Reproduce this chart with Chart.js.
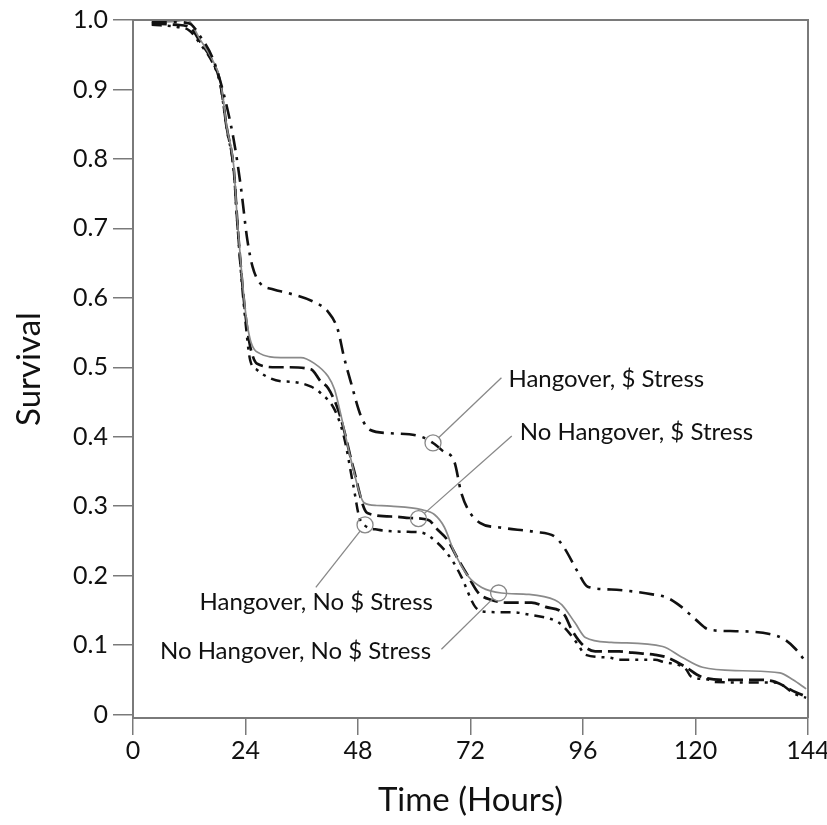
<!DOCTYPE html>
<html>
<head>
<meta charset="utf-8">
<script src="https://cdn.jsdelivr.net/npm/chart.js@4/dist/chart.umd.min.js"></script>
<style>
  html, body { margin: 0; padding: 0; background: #fff; }
  #wrap { width: 827px; height: 825px; }
</style>
</head>
<body>
<div id="wrap"><canvas id="chart" width="827" height="825"></canvas></div>
<script>
// tick labels
const xTicks = [0, 24, 48, 72, 96, 120, 144];
const yTicks = [0, 0.1, 0.2, 0.3, 0.4, 0.5, 0.6, 0.7, 0.8, 0.9, 1.0];

// Hangover, $ Stress
const hangStressHours = [4, 9, 12, 14.5, 17, 19.3, 21.5, 23, 24.4, 25.5, 27, 30, 33, 38.6, 41.6, 43.7, 45, 46.5, 48.6, 50.5, 55, 61.5, 64, 66, 68.6, 70, 71.5, 74, 78.6, 85.7, 90, 92, 95, 97, 102, 110.8, 114, 117, 120, 123, 128.6, 135.8, 139, 141.4, 143.5];
const hangStressSurv = [0.997, 0.997, 0.995, 0.975, 0.945, 0.895, 0.827, 0.76, 0.683, 0.645, 0.622, 0.612, 0.607, 0.594, 0.58, 0.554, 0.515, 0.478, 0.43, 0.41, 0.405, 0.40, 0.391, 0.38, 0.363, 0.32, 0.295, 0.276, 0.269, 0.263, 0.256, 0.24, 0.204, 0.184, 0.18, 0.173, 0.168, 0.155, 0.137, 0.122, 0.12, 0.116, 0.108, 0.094, 0.076];

// No Hangover, No $ Stress (gray solid)
const noHangNoStressHours = [4, 9, 11.5, 14.4, 17, 18.6, 20, 21.5, 22.2, 23, 24, 25, 27, 31.5, 35.8, 38.6, 41.6, 43, 44.4, 46.5, 49.3, 52, 55, 61.5, 64.3, 66.4, 68.6, 71.5, 74.4, 78.6, 84.4, 90, 91.5, 94.3, 96.5, 102, 113, 117, 121.5, 130, 138, 140.8, 143.6];
const noHangNoStressSurv = [0.997, 0.998, 1.0, 0.971, 0.942, 0.914, 0.846, 0.789, 0.717, 0.65, 0.58, 0.54, 0.52, 0.514, 0.514, 0.506, 0.487, 0.468, 0.43, 0.367, 0.305, 0.301, 0.30, 0.295, 0.288, 0.27, 0.233, 0.199, 0.183, 0.175, 0.173, 0.165, 0.158, 0.132, 0.111, 0.104, 0.098, 0.083, 0.068, 0.063, 0.06, 0.05, 0.037];

// No Hangover, $ Stress (long dash)
const noHangStressHours = [4, 9.4, 12, 14.4, 17, 18.6, 20, 21.5, 22.2, 23, 24, 25, 26.5, 30.8, 33, 38, 40, 41.6, 43.7, 45, 47, 50, 55.7, 59, 63, 65, 67, 69.4, 71.5, 73.7, 76.5, 80, 85, 88, 92, 93.6, 96, 98.6, 103.7, 106.5, 111.4, 114, 118, 121, 126, 134, 137, 141.4, 143.6];
const noHangStressSurv = [0.995, 0.993, 0.99, 0.968, 0.94, 0.91, 0.845, 0.785, 0.715, 0.645, 0.575, 0.53, 0.505, 0.50, 0.50, 0.497, 0.48, 0.47, 0.44, 0.41, 0.355, 0.29, 0.285, 0.283, 0.28, 0.266, 0.252, 0.223, 0.199, 0.175, 0.165, 0.161, 0.161, 0.155, 0.144, 0.122, 0.10, 0.091, 0.091, 0.089, 0.086, 0.082, 0.068, 0.055, 0.05, 0.05, 0.047, 0.032, 0.026];

// Hangover, No $ Stress (dash-dot-dot)
const hangNoStressHours = [4, 9.4, 12, 14.4, 17, 18.6, 20, 21.5, 22.2, 23, 24, 25, 26.5, 28.7, 31.5, 34, 38, 40, 43, 45, 47, 48.5, 52.3, 58.7, 61.5, 65, 68, 70, 73, 75, 81.4, 84.4, 89.4, 90.9, 93, 95, 96.5, 101.6, 103.7, 111.4, 113, 118, 119, 123, 124, 134, 137, 141.4, 143.6];
const hangNoStressSurv = [0.993, 0.99, 0.985, 0.965, 0.938, 0.908, 0.843, 0.783, 0.713, 0.64, 0.565, 0.51, 0.496, 0.486, 0.48, 0.479, 0.472, 0.463, 0.439, 0.40, 0.33, 0.28, 0.266, 0.263, 0.262, 0.247, 0.223, 0.199, 0.155, 0.148, 0.147, 0.144, 0.137, 0.132, 0.118, 0.10, 0.086, 0.082, 0.079, 0.079, 0.076, 0.065, 0.055, 0.05, 0.047, 0.046, 0.046, 0.029, 0.024];

// callouts: circle at (hour, surv), leader to (hour, surv), text anchor
const callouts = [
  { text: "Hangover, $ Stress", at: [64, 0.391], end: [78.6, 0.485], label: [80.1, 0.482], align: "left" },
  { text: "No Hangover, $ Stress", at: [60.9, 0.282], end: [80.8, 0.401], label: [82.5, 0.407], align: "left" },
  { text: "Hangover, No $ Stress", at: [49.5, 0.273], end: [39, 0.183], label: [64, 0.161], align: "right" },
  { text: "No Hangover, No $ Stress", at: [78, 0.175], end: [65.8, 0.094], label: [63.6, 0.091], align: "right" }
];

const FONT = "Lato, 'Open Sans', sans-serif";
const AXIS = "#7a7a7a";

function pts(xs, ys) {
  return xs.map((x, i) => ({ x: x, y: ys[i] }));
}

const calloutPlugin = {
  id: "callouts",
  afterDatasetsDraw(chart) {
    const ctx = chart.ctx;
    const xs = chart.scales.x;
    const ys = chart.scales.y;
    const r = 8;
    ctx.save();
    callouts.forEach(c => {
      const cx = xs.getPixelForValue(c.at[0]);
      const cy = ys.getPixelForValue(c.at[1]);
      const ex = xs.getPixelForValue(c.end[0]);
      const ey = ys.getPixelForValue(c.end[1]);
      ctx.strokeStyle = "#888";
      ctx.lineWidth = 1.3;
      ctx.beginPath();
      ctx.arc(cx, cy, r, 0, Math.PI * 2);
      ctx.stroke();
      const d = Math.hypot(ex - cx, ey - cy);
      ctx.beginPath();
      ctx.moveTo(cx + (ex - cx) / d * r, cy + (ey - cy) / d * r);
      ctx.lineTo(ex, ey);
      ctx.stroke();
      ctx.fillStyle = "#111";
      ctx.font = "24px " + FONT;
      ctx.textAlign = c.align;
      ctx.textBaseline = "middle";
      ctx.fillText(c.text, xs.getPixelForValue(c.label[0]), ys.getPixelForValue(c.label[1]));
    });
    ctx.restore();
  }
};

const framePlugin = {
  id: "frame",
  afterDraw(chart) {
    const a = chart.chartArea;
    const ctx = chart.ctx;
    const top = chart.scales.y.getPixelForValue(1);
    ctx.save();
    ctx.strokeStyle = AXIS;
    ctx.lineWidth = 2;
    ctx.beginPath();
    ctx.moveTo(a.left, top);
    ctx.lineTo(a.right, top);
    ctx.lineTo(a.right, a.bottom);
    ctx.stroke();
    ctx.restore();
  }
};

new Chart(document.getElementById("chart"), {
  type: "scatter",
  data: {
    datasets: [
      {
        label: "Hangover, $ Stress",
        data: pts(hangStressHours, hangStressSurv),
        borderColor: "#111", borderWidth: 2.6, borderDash: [15, 7, 3, 7]
      },
      {
        label: "No Hangover, No $ Stress",
        data: pts(noHangNoStressHours, noHangNoStressSurv),
        borderColor: "#8a8a8a", borderWidth: 1.7
      },
      {
        label: "No Hangover, $ Stress",
        data: pts(noHangStressHours, noHangStressSurv),
        borderColor: "#111", borderWidth: 2.7, borderDash: [15, 6]
      },
      {
        label: "Hangover, No $ Stress",
        data: pts(hangNoStressHours, hangNoStressSurv),
        borderColor: "#111", borderWidth: 2.5, borderDash: [10, 6, 3, 6, 3, 6]
      }
    ].map(d => Object.assign(d, {
      showLine: true, pointRadius: 0, fill: false,
      cubicInterpolationMode: "monotone", backgroundColor: d.borderColor
    }))
  },
  options: {
    responsive: false,
    animation: false,
    layout: { padding: { top: 20, right: 19, left: 0, bottom: 0 } },
    plugins: { legend: { display: false }, tooltip: { enabled: false } },
    scales: {
      x: {
        type: "linear",
        min: 0, max: 144,
        afterBuildTicks: s => { s.ticks = xTicks.map(v => ({ value: v })); },
        afterFit: s => { s.height = 107; s.paddingLeft = 0; s.paddingRight = 0; },
        grid: { drawOnChartArea: false, drawTicks: true, tickLength: 17, color: AXIS, lineWidth: 1.5 },
        border: { color: AXIS, width: 2 },
        ticks: { color: "#111", font: { family: FONT, size: 25 }, padding: 1, maxRotation: 0 },
        title: { display: true, text: "Time (Hours)", color: "#111", font: { family: FONT, size: 33 }, padding: { top: 0, bottom: 5 } }
      },
      y: {
        min: -0.005, max: 1.0,
        afterBuildTicks: s => { s.ticks = yTicks.map(v => ({ value: v })); },
        afterFit: s => { s.width = 133; s.paddingTop = 0; s.paddingBottom = 0; },
        grid: { drawOnChartArea: false, drawTicks: true, tickLength: 20, color: AXIS, lineWidth: 1.5 },
        border: { color: AXIS, width: 2 },
        ticks: {
          color: "#111", font: { family: FONT, size: 25 }, padding: 5,
          callback: v => v === 0 ? "0" : v.toFixed(1)
        },
        title: { display: true, text: "Survival", color: "#111", font: { family: FONT, size: 33 }, padding: { top: 10, bottom: 0 } }
      }
    }
  },
  plugins: [calloutPlugin, framePlugin]
});
</script>
</body>
</html>
